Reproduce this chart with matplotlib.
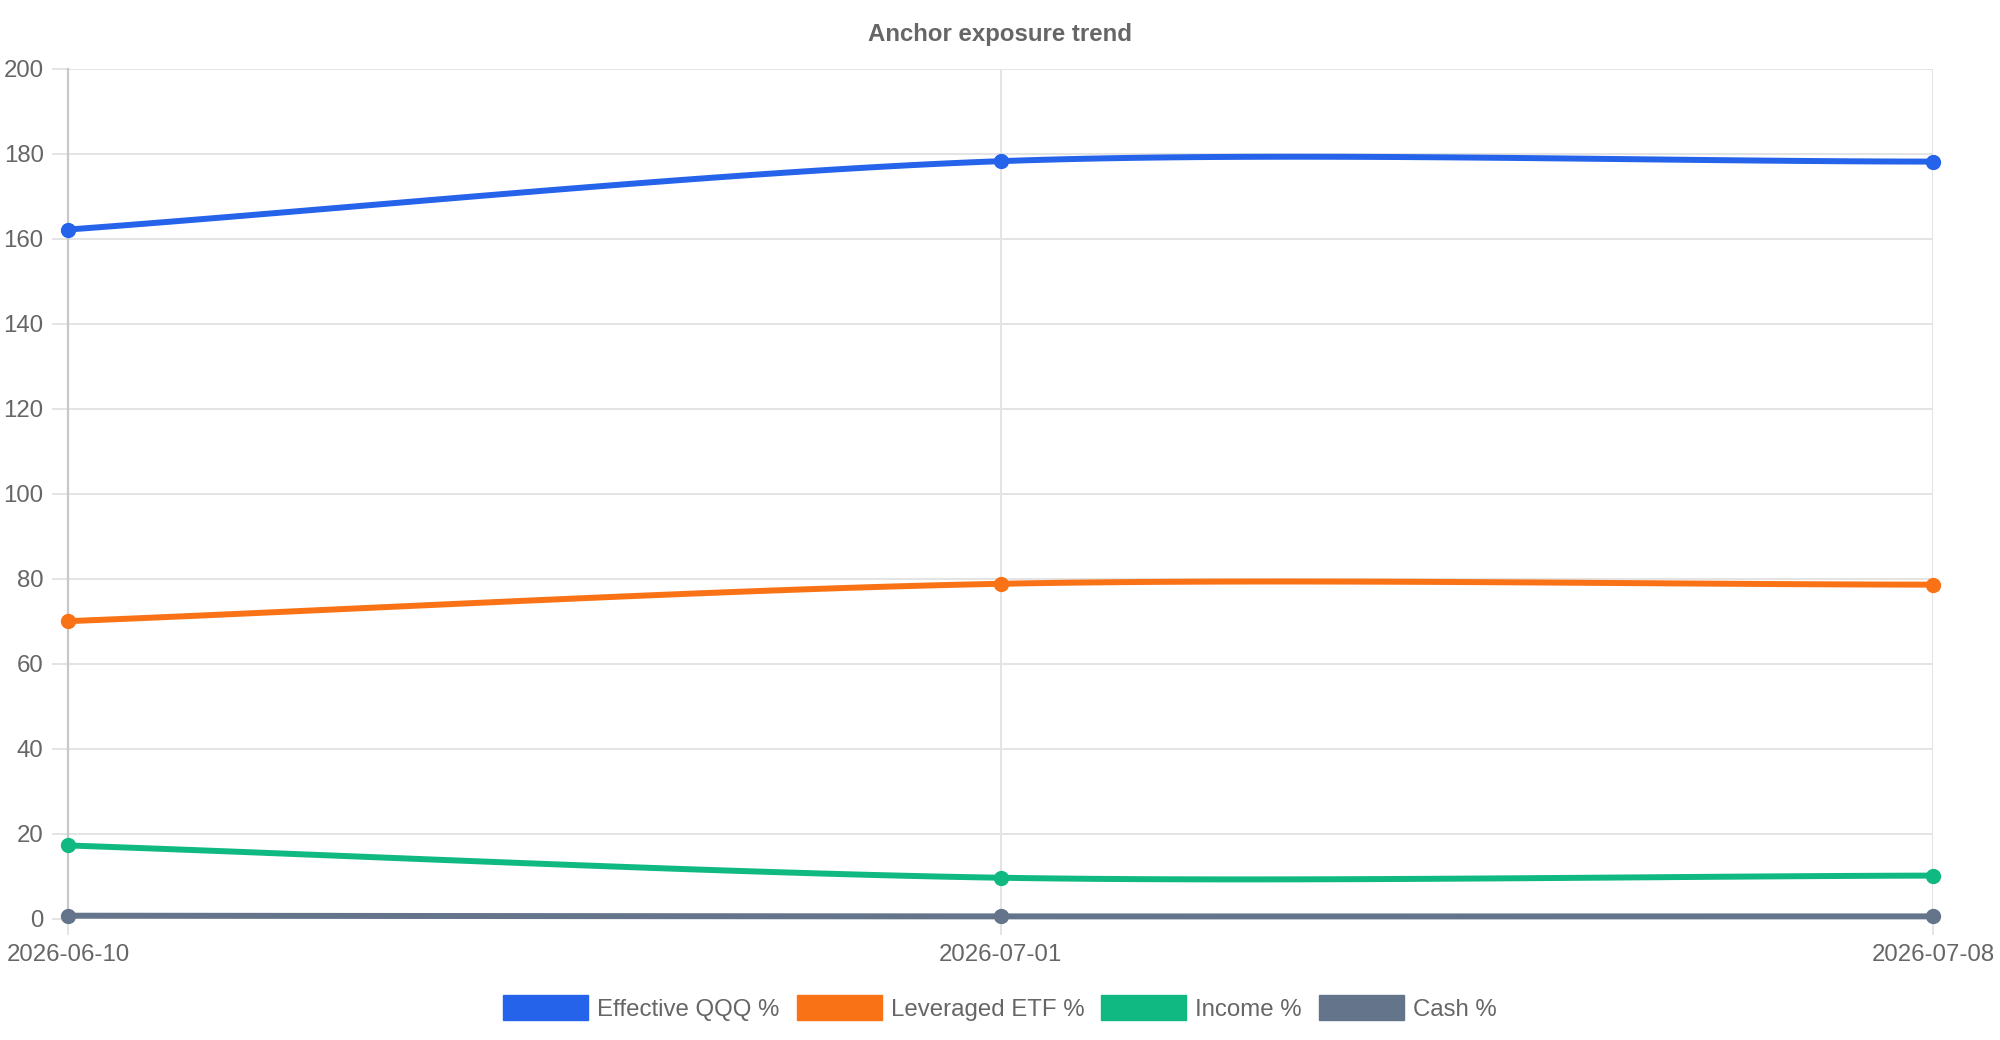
import numpy as np
import matplotlib.pyplot as plt
from matplotlib.patches import Patch

plt.rcParams['font.family'] = ['Liberation Sans', 'DejaVu Sans']

# chart data
dates = ["2026-06-10", "2026-07-01", "2026-07-08"]
series_names = ["Effective QQQ %", "Leveraged ETF %", "Income %", "Cash %"]
effective_qqq = [162.2, 178.3, 178.2]
leveraged_etf = [70.0, 78.8, 78.6]
income = [17.2, 9.6, 10.1]
cash = [0.66, 0.5, 0.5]
colors = ["#2563eb", "#f97316", "#10b981", "#64748b"]
y_ticks = [0, 20, 40, 60, 80, 100, 120, 140, 160, 180, 200]

W, H, DPI = 2000, 1040, 100
L, R, T, B = 68, 1933, 69, 918.5
TENSION = 0.3
GRID = "#e4e4e4"
TXT = "#666666"
FS = 17.3


def smooth(xs, ys, sx, sy, t=TENSION, n=60):
    # chart.js style spline, control points worked out in pixel space
    px = [x * sx for x in xs]
    py = [y * sy for y in ys]
    k = len(px)
    cps = []
    for i in range(k):
        prev = i - 1 if i > 0 else 0
        nxt = min(i + 1, k - 1)
        d01 = np.hypot(px[i] - px[prev], py[i] - py[prev])
        d12 = np.hypot(px[nxt] - px[i], py[nxt] - py[i])
        tot = d01 + d12
        s01 = d01 / tot if tot else 0
        s12 = d12 / tot if tot else 0
        fa, fb = t * s01, t * s12
        dx, dy = px[nxt] - px[prev], py[nxt] - py[prev]
        cps.append(((px[i] - fa * dx, py[i] - fa * dy), (px[i] + fb * dx, py[i] + fb * dy)))
    out_x, out_y = [], []
    s = np.linspace(0, 1, n)
    for i in range(k - 1):
        p0 = np.array([px[i], py[i]])
        p1 = np.array(cps[i][1])
        p2 = np.array(cps[i + 1][0])
        p3 = np.array([px[i + 1], py[i + 1]])
        b = ((1 - s) ** 3)[:, None] * p0 + (3 * (1 - s) ** 2 * s)[:, None] * p1 \
            + (3 * (1 - s) * s ** 2)[:, None] * p2 + (s ** 3)[:, None] * p3
        out_x.extend(b[:, 0] / sx)
        out_y.extend(b[:, 1] / sy)
    return out_x, out_y


fig = plt.figure(figsize=(W / DPI, H / DPI), dpi=DPI)
ax = fig.add_axes([L / W, 1 - B / H, (R - L) / W, (B - T) / H])

x = list(range(len(dates)))
sx = (R - L) / (len(dates) - 1)
sy = (B - T) / (y_ticks[-1] - y_ticks[0])

all_series = [effective_qqq, leveraged_etf, income, cash]
for i, (vals, c) in enumerate(zip(all_series, colors)):
    z = 10 - i
    xs, ys = smooth(x, vals, sx, sy)
    ax.plot(xs, ys, color=c, lw=4.3, solid_capstyle='round', zorder=z, clip_on=False)
    ax.plot(x, vals, 'o', color=c, ms=10, zorder=z, clip_on=False)

ax.set_xlim(0, len(dates) - 1)
ax.set_ylim(y_ticks[0], y_ticks[-1])
ax.set_xticks(x)
ax.set_xticklabels(dates)
ax.set_yticks(y_ticks)
ax.grid(True, color=GRID, lw=1.4, zorder=0)
for sp in ["top", "right", "bottom"]:
    ax.spines[sp].set_visible(False)
ax.spines["left"].set_color("#c8c8c8")
ax.spines["left"].set_linewidth(1.6)
ax.tick_params(axis='both', colors=GRID, length=11.5, width=1.4, labelsize=FS,
               labelcolor=TXT)
ax.tick_params(axis='y', pad=6)
ax.tick_params(axis='x', pad=7)
ax.set_axisbelow(True)

fig.text(0.5, 1 - 35 / H, "Anchor exposure trend", ha='center', va='center',
         fontsize=17.3, fontweight='bold', color=TXT)

handles = [Patch(facecolor=c, edgecolor=c, label=n) for n, c in zip(series_names, colors)]
fig.legend(handles=handles, loc='center', bbox_to_anchor=(0.5, 1 - 1008 / H), ncol=4,
           frameon=False, fontsize=FS, labelcolor=TXT, handlelength=3.54,
           handleheight=1.2, handletextpad=0.38, columnspacing=0.7)

fig.savefig("out.png", dpi=DPI)
